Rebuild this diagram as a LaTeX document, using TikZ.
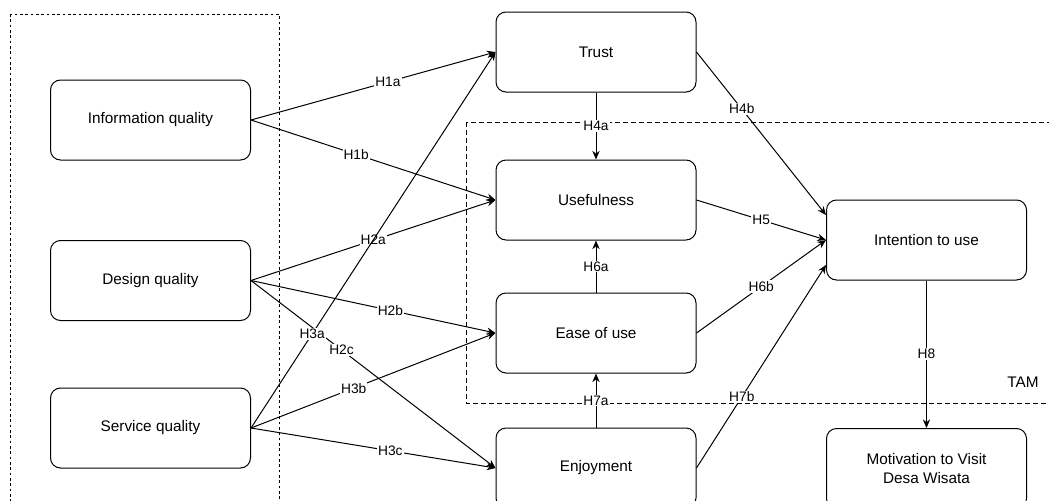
\documentclass[tikz,border=0pt]{standalone}
\usepackage{fontspec}
\setmainfont{Liberation Sans}
\usetikzlibrary{arrows.meta}

\tikzset{
  box/.style={draw, rounded corners=7.5pt, line width=0.75pt, minimum width=150pt, minimum height=60pt, align=center, font=\fontsize{11.5}{14}\selectfont},
  hyp/.style={-{Stealth[length=6.5pt,width=5.5pt]}, line width=0.75pt},
  lbl/.style={fill=white, inner sep=0.75pt, font=\fontsize{10.3}{12}\selectfont},
}

\begin{document}
\begin{tikzpicture}[x=0.75pt,y=0.75pt,yscale=-1,xscale=1]
\clip (0,0) rectangle (1049,500);

%Shape: Rectangle [id:qualityframe]
\draw [line width=0.75pt, dash pattern=on 2pt off 2pt] (10,14) rectangle (279,530);
%Shape: Rectangle [id:tamframe]
\draw [line width=0.75pt, dash pattern=on 3.5pt off 2.5pt] (466,122) rectangle (1070,403);
% Text Node
\node (tam) at (1023,382) [font=\fontsize{11.5}{14}\selectfont] {TAM};

%Shape: Rounded Rect [id:info]
\node [box] (info) at (150.5,120) {Information quality};
%Shape: Rounded Rect [id:design]
\node [box] (design) at (150.5,280.5) {Design quality};
%Shape: Rounded Rect [id:service]
\node [box] (service) at (150.5,428) {Service quality};
%Shape: Rounded Rect [id:trust]
\node [box] (trust) at (596,52) {Trust};
%Shape: Rounded Rect [id:useful]
\node [box] (useful) at (596,200) {Usefulness};
%Shape: Rounded Rect [id:ease]
\node [box] (ease) at (596,333) {Ease of use};
%Shape: Rounded Rect [id:enjoy]
\node [box] (enjoy) at (596,468) {Enjoyment};
%Shape: Rounded Rect [id:intent]
\node [box] (intent) at (926.5,240) {Intention to use};
%Shape: Rounded Rect [id:motiv]
\node [box] (motiv) at (926.5,468.5) {Motivation to Visit\\Desa Wisata};

%Straight Lines [id:h1]
\draw [hyp] (info.east) -- node [lbl, pos=0.56] {H1a} (trust.west);
\draw [hyp] (info.east) -- node [lbl, pos=0.43] {H1b} (useful.west);
%Straight Lines [id:h2]
\draw [hyp] (design.east) -- node [lbl, pos=0.5] {H2a} (useful.west);
\draw [hyp] (design.east) -- node [lbl, pos=0.57] {H2b} (ease.west);
\draw [hyp] (design.east) -- node [lbl, pos=0.37] {H2c} (enjoy.west);
%Straight Lines [id:h3]
\draw [hyp] (service.east) -- node [lbl, pos=0.25] {H3a} (trust.west);
\draw [hyp] (service.east) -- node [lbl, pos=0.42] {H3b} (ease.west);
\draw [hyp] (service.east) -- node [lbl, pos=0.57] {H3c} (enjoy.west);
%Straight Lines [id:h4]
\draw [hyp] (trust.south) -- node [lbl] {H4a} (useful.north);
\draw [hyp] (trust.east) -- node [lbl, pos=0.35] {H4b} ([yshift=-18.75pt]intent.west);
%Straight Lines [id:h5]
\draw [hyp] (useful.east) -- node [lbl] {H5} (intent.west);
%Straight Lines [id:h6]
\draw [hyp] (ease.north) -- node [lbl] {H6a} (useful.south);
\draw [hyp] (ease.east) -- node [lbl] {H6b} (intent.west);
%Straight Lines [id:h7]
\draw [hyp] (enjoy.north) -- node [lbl] {H7a} (ease.south);
\draw [hyp] (enjoy.east) -- node [lbl, pos=0.35] {H7b} ([yshift=18.75pt]intent.west);
%Straight Lines [id:h8]
\draw [hyp] (intent.south) -- node [lbl] {H8} (motiv.north);

\end{tikzpicture}
\end{document}
